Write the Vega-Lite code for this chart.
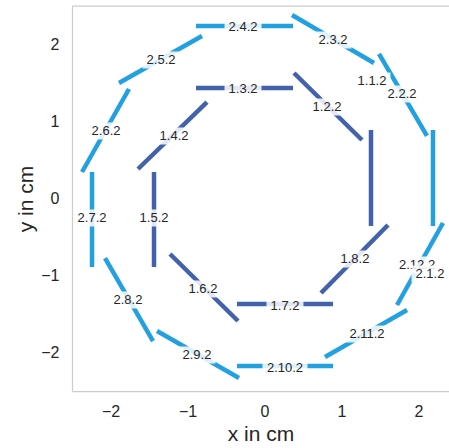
{
  "$schema": "https://vega.github.io/schema/vega-lite/v6.json",
  "width": 377,
  "height": 385,
  "autosize": {"type": "none"},
  "padding": {"left": 72, "top": 6, "right": 0, "bottom": 57},
  "config": {"view": {"stroke": null}, "font": "Liberation Sans"},
  "datasets": {
    "segments": [
      {"ring": "outer", "id": "2.1.2", "x": 2.188, "y": 0.890, "x2": 2.188, "y2": -0.357},
      {"ring": "outer", "id": "2.2.2", "x": 1.487, "y": 1.877, "x2": 2.110, "y2": 0.812},
      {"ring": "outer", "id": "2.3.2", "x": 0.357, "y": 2.383, "x2": 1.422, "y2": 1.760},
      {"ring": "outer", "id": "2.4.2", "x": -0.890, "y": 2.240, "x2": 0.370, "y2": 2.240},
      {"ring": "outer", "id": "2.5.2", "x": -1.890, "y": 1.500, "x2": -0.812, "y2": 2.110},
      {"ring": "outer", "id": "2.6.2", "x": -2.370, "y": 0.344, "x2": -1.760, "y2": 1.422},
      {"ring": "outer", "id": "2.7.2", "x": -2.240, "y": 0.344, "x2": -2.240, "y2": -0.890},
      {"ring": "outer", "id": "2.8.2", "x": -2.071, "y": -0.773, "x2": -1.448, "y2": -1.851},
      {"ring": "outer", "id": "2.9.2", "x": -1.396, "y": -1.721, "x2": -0.331, "y2": -2.331},
      {"ring": "outer", "id": "2.10.2", "x": -0.357, "y": -2.175, "x2": 0.890, "y2": -2.175},
      {"ring": "outer", "id": "2.11.2", "x": 0.786, "y": -2.058, "x2": 1.851, "y2": -1.448},
      {"ring": "outer", "id": "2.12.2", "x": 1.721, "y": -1.383, "x2": 2.318, "y2": -0.318},
      {"ring": "inner", "id": "1.1.2", "x": 1.383, "y": 0.890, "x2": 1.383, "y2": -0.357},
      {"ring": "inner", "id": "1.2.2", "x": 0.383, "y": 1.630, "x2": 1.266, "y2": 0.760},
      {"ring": "inner", "id": "1.3.2", "x": -0.890, "y": 1.435, "x2": 0.370, "y2": 1.435},
      {"ring": "inner", "id": "1.4.2", "x": -1.643, "y": 0.383, "x2": -0.747, "y2": 1.253},
      {"ring": "inner", "id": "1.5.2", "x": -1.435, "y": 0.344, "x2": -1.435, "y2": -0.890},
      {"ring": "inner", "id": "1.6.2", "x": -1.227, "y": -0.721, "x2": -0.344, "y2": -1.591},
      {"ring": "inner", "id": "1.7.2", "x": -0.357, "y": -1.370, "x2": 0.890, "y2": -1.370},
      {"ring": "inner", "id": "1.8.2", "x": 1.604, "y": -0.344, "x2": 0.734, "y2": -1.227}
    ],
    "labels": [
      {"label": "1.1.2", "x": 1.396, "y": 1.526},
      {"label": "1.2.2", "x": 0.812, "y": 1.188},
      {"label": "1.3.2", "x": -0.279, "y": 1.422},
      {"label": "1.4.2", "x": -1.175, "y": 0.812},
      {"label": "1.5.2", "x": -1.435, "y": -0.253},
      {"label": "1.6.2", "x": -0.799, "y": -1.175},
      {"label": "1.7.2", "x": 0.266, "y": -1.396},
      {"label": "1.8.2", "x": 1.175, "y": -0.786},
      {"label": "2.2.2", "x": 1.786, "y": 1.357},
      {"label": "2.3.2", "x": 0.890, "y": 2.058},
      {"label": "2.4.2", "x": -0.279, "y": 2.227},
      {"label": "2.5.2", "x": -1.344, "y": 1.799},
      {"label": "2.6.2", "x": -2.058, "y": 0.877},
      {"label": "2.7.2", "x": -2.240, "y": -0.253},
      {"label": "2.8.2", "x": -1.773, "y": -1.318},
      {"label": "2.9.2", "x": -0.877, "y": -2.032},
      {"label": "2.10.2", "x": 0.266, "y": -2.201},
      {"label": "2.11.2", "x": 1.331, "y": -1.760},
      {"label": "2.12.2", "x": 1.981, "y": -0.864},
      {"label": "2.1.2", "x": 2.149, "y": -0.981}
    ],
    "frame": [
      {"x": -2.5, "x2": 2.4, "y": 2.5}
    ]
  },
  "encoding": {
    "x": {
      "field": "x", "type": "quantitative",
      "scale": {"domain": [-2.5, 2.396], "nice": false, "zero": false},
      "axis": {
        "title": "x in cm", "values": [-2, -1, 0, 1, 2], "ticks": false, "grid": false,
        "domainColor": "#cccccc", "domainWidth": 1.25,
        "labelFontSize": 16, "labelColor": "#262626", "labelPadding": 12,
        "titleFontSize": 21, "titleFontWeight": "normal", "titleColor": "#262626",
        "titleBaseline": "alphabetic", "titleY": 49
      }
    },
    "y": {
      "field": "y", "type": "quantitative",
      "scale": {"domain": [-2.5, 2.5], "nice": false, "zero": false},
      "axis": {
        "title": "y in cm", "values": [-2, -1, 0, 1, 2], "ticks": false, "grid": false,
        "domainColor": "#cccccc", "domainWidth": 1.25,
        "labelFontSize": 16, "labelColor": "#262626", "labelPadding": 13,
        "titleFontSize": 21, "titleFontWeight": "normal", "titleColor": "#262626",
        "titleBaseline": "alphabetic", "titleX": -40
      }
    }
  },
  "layer": [
    {
      "data": {"name": "frame"},
      "mark": {"type": "rule", "color": "#cccccc", "strokeWidth": 1.25},
      "encoding": {"x2": {"field": "x2"}}
    },
    {
      "data": {"name": "segments"},
      "mark": {"type": "rule", "strokeWidth": 4.5, "strokeCap": "butt"},
      "encoding": {
        "x2": {"field": "x2"},
        "y2": {"field": "y2"},
        "color": {
          "field": "ring", "type": "nominal",
          "scale": {"domain": ["inner", "outer"], "range": ["#4262ab", "#22a0e0"]},
          "legend": null
        }
      }
    },
    {
      "data": {"name": "labels"},
      "transform": [{"filter": "length(datum.label) == 5 && datum.label != '2.1.2'"}],
      "mark": {"type": "point", "shape": "M-1,-0.459H1V0.459H-1Z", "size": 1369, "filled": true, "color": "white", "opacity": 0.85, "strokeWidth": 0}
    },
    {
      "data": {"name": "labels"},
      "transform": [{"filter": "length(datum.label) == 6"}],
      "mark": {"type": "point", "shape": "M-1,-0.378H1V0.378H-1Z", "size": 2025, "filled": true, "color": "white", "opacity": 0.85, "strokeWidth": 0}
    },
    {
      "data": {"name": "labels"},
      "transform": [{"filter": "datum.label != '2.1.2'"}],
      "mark": {"type": "text", "fontSize": 13, "color": "#262626", "baseline": "middle", "align": "center"},
      "encoding": {"text": {"field": "label", "type": "nominal"}}
    },
    {
      "data": {"name": "labels"},
      "transform": [{"filter": "datum.label == '2.1.2'"}],
      "mark": {"type": "point", "shape": "M-1,-0.459H1V0.459H-1Z", "size": 1369, "filled": true, "color": "white", "opacity": 0.85, "strokeWidth": 0}
    },
    {
      "data": {"name": "labels"},
      "transform": [{"filter": "datum.label == '2.1.2'"}],
      "mark": {"type": "text", "fontSize": 13, "color": "#262626", "baseline": "middle", "align": "center"},
      "encoding": {"text": {"field": "label", "type": "nominal"}}
    }
  ]
}
